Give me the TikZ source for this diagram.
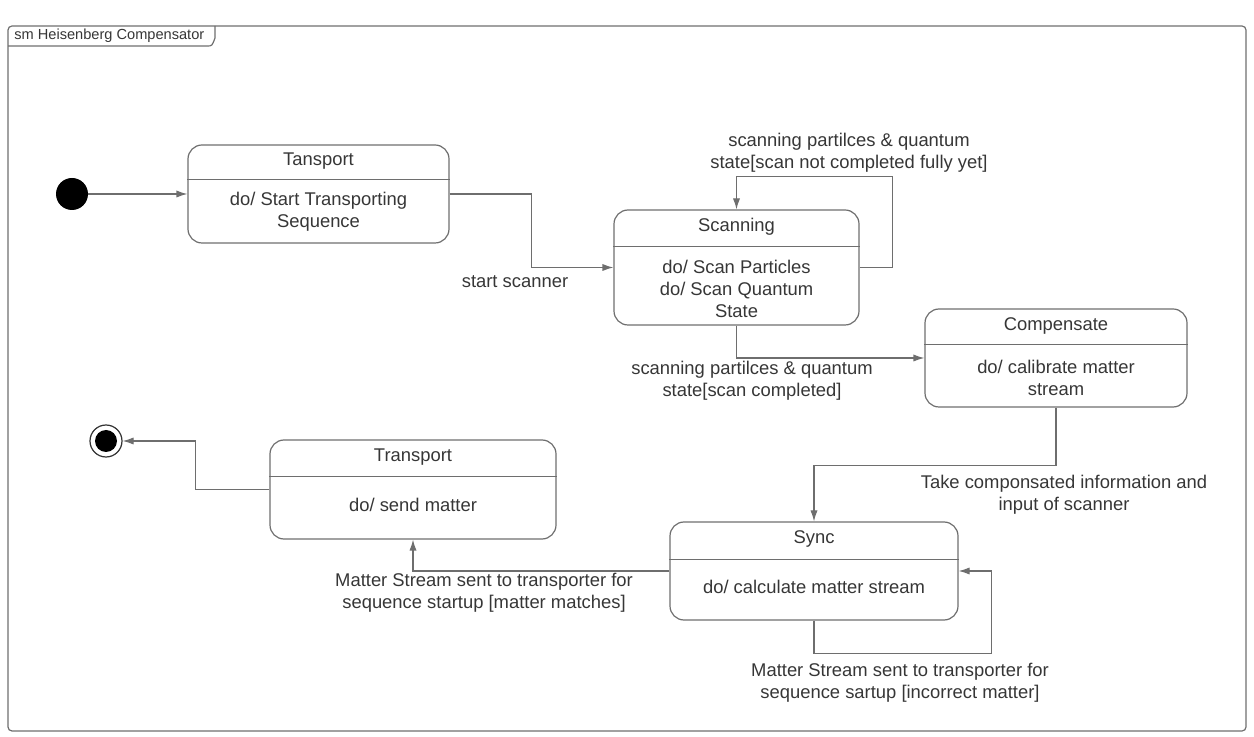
\documentclass[tikz,border=0pt]{standalone}
\usepackage{fontspec}
\setmainfont{Liberation Sans}
\usetikzlibrary{arrows.meta,calc}
\definecolor{linegray}{HTML}{6E6E6E}
\definecolor{textgray}{HTML}{363636}
\tikzset{>={Latex[length=5.5pt,width=3.6pt]}}
\tikzstyle{statebox}=[rectangle,draw=linegray,rounded corners=7pt,line width=0.6pt]
\tikzstyle{lbl}=[align=center,text=textgray,font=\fontsize{9.2}{11}\selectfont,inner sep=0pt]
\tikzstyle{flow}=[->,draw=linegray,line width=0.6pt]
\tikzstyle{divider}=[draw=linegray,line width=0.6pt]

\begin{document}
\begin{tikzpicture}[x=0.5pt,y=-0.5pt]
	\useasboundingbox (0,0) rectangle (1254,737);
	
	% frame
	\draw[linegray, line width=0.6pt, rounded corners=2pt] (8,26) rectangle (1246,731);
	\draw[linegray, line width=0.6pt] (8,46) -- (207,46) .. controls (212,46) .. (215,38) -- (215,26);
	\node[lbl, anchor=west, font=\fontsize{7.3}{9}\selectfont] (frametitle) at (14,36) {sm Heisenberg Compensator};
	
	% pseudo states
	\node[circle, fill=black, minimum size=16pt, inner sep=0pt] (startdot) at (72,194) {};
	\node[circle, draw=black!80, line width=0.6pt, minimum size=16pt, inner sep=0pt] (enddot) at (106,441) {};
	\fill[black] (enddot) circle (5.5pt);
	
	% states
	\node[statebox, minimum width=130.5pt, minimum height=49pt] (tansport) at (318.5,194) {};
	\node[statebox, minimum width=122.5pt, minimum height=57.5pt] (scanning) at (736.5,267.5) {};
	\node[statebox, minimum width=131pt, minimum height=49pt] (compensate) at (1056,358) {};
	\node[statebox, minimum width=143pt, minimum height=49.5pt] (transport) at (413,489.5) {};
	\node[statebox, minimum width=144pt, minimum height=49pt] (sync) at (814,571) {};
	
	\draw[divider] ($(tansport.north west)+(0,35)$) -- ($(tansport.north east)+(0,35)$);
	\draw[divider] ($(scanning.north west)+(0,37)$) -- ($(scanning.north east)+(0,37)$);
	\draw[divider] ($(compensate.north west)+(0,36)$) -- ($(compensate.north east)+(0,36)$);
	\draw[divider] ($(transport.north west)+(0,37)$) -- ($(transport.north east)+(0,37)$);
	\draw[divider] ($(sync.north west)+(0,38)$) -- ($(sync.north east)+(0,38)$);
	
	\node[lbl] (tansporttitle) at (318.5,161) {Tansport};
	\node[lbl] (tansportdo) at (318.5,212) {do/ Start Transporting\\Sequence};
	\node[lbl] (scanningtitle) at (736.5,227) {Scanning};
	\node[lbl] (scanningdo) at (736.5,289) {do/ Scan Particles\\do/ Scan Quantum\\State};
	\node[lbl] (compensatetitle) at (1056,326) {Compensate};
	\node[lbl] (compensatedo) at (1056,378) {do/ calibrate matter\\stream};
	\node[lbl] (transporttitle) at (413,457) {Transport};
	\node[lbl] (transportdo) at (413,505) {do/ send matter};
	\node[lbl] (synctitle) at (814,539) {Sync};
	\node[lbl] (syncdo) at (814,587) {do/ calculate matter stream};
	
	% transitions
	\draw[flow] (startdot) -- (tansport.west);
	\draw[flow] (tansport.east) -| ($(tansport.east)!0.5!(scanning.west)$) |- (scanning.west);
	\draw[flow] (scanning.east) -- ++(33,0) |- ($(scanning.north)+(0,-33)$) -- (scanning.north);
	\draw[flow] (scanning.south) |- (compensate.west);
	\draw[flow] (compensate.south) -- ++(0,58) -| (sync.north);
	\draw[flow] (sync.south) -- ++(0,33) -| ($(sync.east)+(33,0)$) -- (sync.east);
	\draw[flow] (sync.west) -| (transport.south);
	\draw[flow] (transport.west) -- ++(-74,0) |- (enddot.east);
	
	% transition labels
	\node[lbl] (startlab) at (515,282) {start scanner};
	\node[lbl] (notdonelab) at (849,153) {scanning partilces \& quantum\\state[scan not completed fully yet]};
	\node[lbl] (donelab) at (752,381) {scanning partilces \& quantum\\state[scan completed]};
	\node[lbl] (takelab) at (1064,495) {Take componsated information and\\input of scanner};
	\node[lbl] (incorrectlab) at (900,683) {Matter Stream sent to transporter for\\sequence sartup [incorrect matter]};
	\node[lbl] (matcheslab) at (484,593) {Matter Stream sent to transporter for\\sequence startup [matter matches]};
\end{tikzpicture}
\end{document}
